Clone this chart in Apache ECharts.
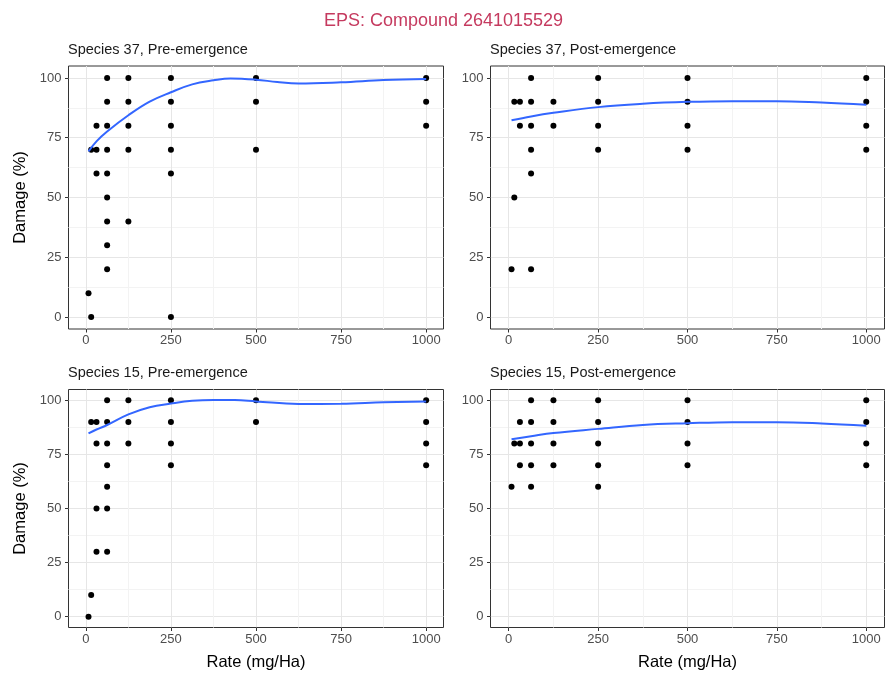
<!DOCTYPE html>
<html>
<head>
<meta charset="utf-8">
<script src="https://cdn.jsdelivr.net/npm/echarts@6/dist/echarts.min.js"></script>
<style>
  html, body { margin: 0; padding: 0; background: #ffffff; }
  #chart { width: 887px; height: 673px; }
</style>
</head>
<body>
<div id="chart"></div>
<script>
// ---------------- data ----------------
const chartTitle = 'EPS: Compound 2641015529';
const panelTitles = ['Species 37, Pre-emergence', 'Species 37, Post-emergence',
                     'Species 15, Pre-emergence', 'Species 15, Post-emergence'];
const xTicks = [0, 250, 500, 750, 1000];
const xMinorTicks = [125, 375, 625, 875];
const yTicks = [0, 25, 50, 75, 100];
const yMinorTicks = [12.5, 37.5, 62.5, 87.5];

// observed points [rate, damage]
const sp37Pre = [
  [7.8, 10],
  [15.6, 70], [15.6, 0],
  [31.25, 80], [31.25, 70], [31.25, 60],
  [62.5, 100], [62.5, 90], [62.5, 80], [62.5, 70], [62.5, 60], [62.5, 50], [62.5, 40], [62.5, 30], [62.5, 20],
  [125, 100], [125, 90], [125, 80], [125, 70], [125, 40],
  [250, 100], [250, 90], [250, 80], [250, 70], [250, 60], [250, 0],
  [500, 100], [500, 90], [500, 70],
  [1000, 100], [1000, 90], [1000, 80]
];
const sp37Post = [
  [7.8, 20],
  [15.6, 90], [15.6, 50],
  [31.25, 90], [31.25, 80],
  [62.5, 100], [62.5, 90], [62.5, 80], [62.5, 70], [62.5, 60], [62.5, 20],
  [125, 90], [125, 80],
  [250, 100], [250, 90], [250, 80], [250, 70],
  [500, 100], [500, 90], [500, 80], [500, 70],
  [1000, 100], [1000, 90], [1000, 80], [1000, 70]
];
const sp15Pre = [
  [7.8, 0],
  [15.6, 90], [15.6, 10],
  [31.25, 90], [31.25, 80], [31.25, 50], [31.25, 30],
  [62.5, 100], [62.5, 90], [62.5, 80], [62.5, 70], [62.5, 60], [62.5, 50], [62.5, 30],
  [125, 100], [125, 90], [125, 80],
  [250, 100], [250, 90], [250, 80], [250, 70],
  [500, 100], [500, 90],
  [1000, 100], [1000, 90], [1000, 80], [1000, 70]
];
const sp15Post = [
  [7.8, 60],
  [15.6, 80],
  [31.25, 90], [31.25, 80], [31.25, 70],
  [62.5, 100], [62.5, 90], [62.5, 80], [62.5, 70], [62.5, 60],
  [125, 100], [125, 90], [125, 80], [125, 70],
  [250, 100], [250, 90], [250, 80], [250, 70], [250, 60],
  [500, 100], [500, 90], [500, 80], [500, 70],
  [1000, 100], [1000, 90], [1000, 80], [1000, 70]
];

// smoothed (loess) curves [rate, damage]
const sp37PreFit = [
  [7.8, 69.3], [31.25, 73.5], [62.5, 77.6], [125, 84.4], [187.5, 90.1], [250, 94.0],
  [312.5, 97.3], [375, 99.0], [425, 99.8], [500, 99.3], [562.5, 98.3], [625, 97.7],
  [750, 98.2], [875, 99.1], [1000, 99.6]
];
const sp37PostFit = [
  [7.8, 82.3], [62.5, 83.9], [125, 85.4], [250, 87.8], [375, 89.2], [500, 90.0],
  [625, 90.3], [750, 90.3], [875, 89.7], [1000, 88.8]
];
const sp15PreFit = [
  [7.8, 84.7], [31.25, 86.5], [62.5, 88.6], [125, 93.5], [187.5, 96.8], [250, 98.5],
  [312.5, 99.8], [375, 100.2], [437.5, 100.1], [500, 99.5], [625, 98.3], [750, 98.4],
  [875, 99.1], [1000, 99.5]
];
const sp15PostFit = [
  [7.8, 82.0], [62.5, 83.4], [125, 84.9], [250, 86.8], [375, 88.6], [500, 89.4],
  [625, 89.9], [750, 89.9], [875, 89.3], [1000, 88.2]
];

const panelPoints = [sp37Pre, sp37Post, sp15Pre, sp15Post];
const panelFits = [sp37PreFit, sp37PostFit, sp15PreFit, sp15PostFit];

// ---------------- layout ----------------
const FONT = "'Liberation Sans', Arial, sans-serif";
const grids = [
  { left: 68.5, top: 66, width: 375, height: 263 },
  { left: 490.5, top: 66, width: 394, height: 263 },
  { left: 68.5, top: 389.5, width: 375, height: 238 },
  { left: 490.5, top: 389.5, width: 394, height: 238 }
];
const xMin = -51, xMax = 1051, yMin = -5, yMax = 105;

const xAxes = [], yAxes = [], series = [], titles = [];

titles.push({
  text: chartTitle, left: 'center', top: 12, padding: 0,
  textStyle: { color: '#c53a5f', fontSize: 18, fontWeight: 'normal', fontFamily: FONT }
});

grids.forEach((g, i) => {
  // minor axes (grid lines only)
  xAxes.push({
    type: 'value', gridIndex: i, min: xMin, max: xMax, position: 'bottom', offset: 0,
    axisLine: { show: false, onZero: false }, axisLabel: { show: false },
    axisTick: { show: false, customValues: xMinorTicks },
    splitLine: { show: true, lineStyle: { color: '#f3f3f3', width: 1 } }
  });
  yAxes.push({
    type: 'value', gridIndex: i, min: yMin, max: yMax, position: 'left', offset: 0,
    axisLine: { show: false, onZero: false }, axisLabel: { show: false },
    axisTick: { show: false, customValues: yMinorTicks },
    splitLine: { show: true, lineStyle: { color: '#f3f3f3', width: 1 } }
  });
});
grids.forEach((g, i) => {
  const isLeft = (i % 2 === 0);
  const isBottom = (i >= 2);
  xAxes.push({
    type: 'value', gridIndex: i, min: xMin, max: xMax, position: 'bottom', offset: 0,
    name: isBottom ? 'Rate (mg/Ha)' : '',
    nameLocation: 'middle', nameGap: 26,
    nameTextStyle: { color: '#000', fontSize: 16.5, fontFamily: FONT },
    axisLine: { show: false, onZero: false },
    axisTick: { show: true, length: 3.5, customValues: xTicks, lineStyle: { color: '#333333', width: 1 } },
    axisLabel: { show: true, customValues: xTicks, margin: 5, color: '#4d4d4d', fontSize: 13, fontFamily: FONT,
                 formatter: v => String(v) },
    splitLine: { show: true, lineStyle: { color: '#e6e6e6', width: 1 } }
  });
  yAxes.push({
    type: 'value', gridIndex: i, min: yMin, max: yMax, position: 'left', offset: 0,
    name: isLeft ? 'Damage (%)' : '',
    nameLocation: 'middle', nameGap: 40,
    nameTextStyle: { color: '#000', fontSize: 16.5, fontFamily: FONT },
    axisLine: { show: false, onZero: false },
    axisTick: { show: true, length: 3.5, customValues: yTicks, lineStyle: { color: '#333333', width: 1 } },
    axisLabel: { show: true, customValues: yTicks, margin: 7, color: '#4d4d4d', fontSize: 13, fontFamily: FONT,
                 formatter: v => String(v) },
    splitLine: { show: true, lineStyle: { color: '#e6e6e6', width: 1 } }
  });
  titles.push({
    text: panelTitles[i], left: g.left - 0.5, top: g.top - 24, padding: 0,
    textStyle: { color: '#1a1a1a', fontSize: 14.5, fontWeight: 'normal', fontFamily: FONT }
  });
  series.push({
    type: 'scatter', xAxisIndex: 4 + i, yAxisIndex: 4 + i,
    data: panelPoints[i], symbol: 'circle', symbolSize: 6,
    itemStyle: { color: '#000000', opacity: 1 }, z: 3, silent: true
  });
  series.push({
    type: 'line', xAxisIndex: 4 + i, yAxisIndex: 4 + i,
    data: panelFits[i], smooth: 0.4, showSymbol: false, symbol: 'none',
    lineStyle: { color: '#3366FF', width: 2 }, z: 4, silent: true
  });
});

const chart = echarts.init(document.getElementById('chart'), null, { renderer: 'canvas' });
chart.setOption({
  animation: false,
  backgroundColor: '#ffffff',
  title: titles,
  grid: grids.map(g => Object.assign({ show: true, borderColor: '#333333', borderWidth: 1, backgroundColor: 'transparent', containLabel: false }, g)),
  xAxis: xAxes,
  yAxis: yAxes,
  series: series
});
</script>
</body>
</html>
